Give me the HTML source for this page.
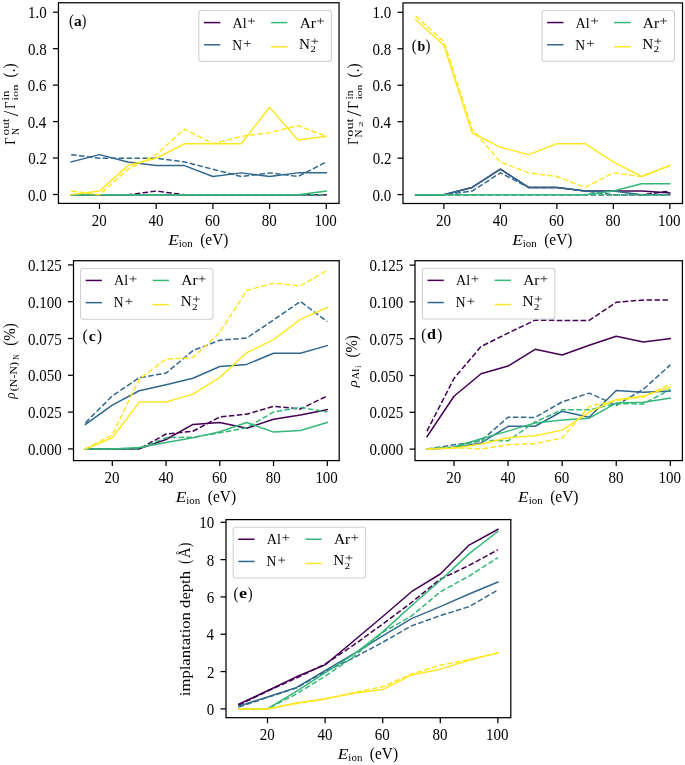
<!DOCTYPE html>
<html><head><meta charset="utf-8"><style>
html,body{margin:0;padding:0;background:#fff;}
svg{display:block;}
text{font-family:"Liberation Serif", serif;fill:#000;font-kerning:none;}
svg{will-change:transform;}
</style></head><body>
<svg width="685" height="765" viewBox="0 0 685 765">
<rect width="685" height="765" fill="#fff"/>
<clipPath id="cla"><rect x="58.45" y="2.75" width="280.60" height="200.65"/></clipPath>
<g clip-path="url(#cla)" fill="none" stroke-linejoin="round">
<polyline points="71.15,194.75 99.50,194.75 127.85,194.75 156.20,194.75 184.55,194.75 212.90,194.75 241.25,194.75 269.60,194.75 297.95,194.75 326.30,194.75" stroke="#440154" stroke-width="1.5" stroke-linecap="square"/>
<polyline points="71.15,194.75 99.50,194.75 127.85,194.75 156.20,191.10 184.55,194.75 212.90,194.75 241.25,194.75 269.60,194.75 297.95,194.75 326.30,194.75" stroke="#440154" stroke-width="1.5" stroke-dasharray="5.55,2.4"/>
<polyline points="71.15,161.94 99.50,154.64 127.85,161.94 156.20,165.58 184.55,165.58 212.90,176.52 241.25,172.87 269.60,176.52 297.95,172.87 326.30,172.87" stroke="#31688e" stroke-width="1.5" stroke-linecap="square"/>
<polyline points="71.15,154.64 99.50,158.29 127.85,158.29 156.20,158.29 184.55,161.94 212.90,169.23 241.25,176.52 269.60,172.87 297.95,176.52 326.30,161.94" stroke="#31688e" stroke-width="1.5" stroke-dasharray="5.55,2.4"/>
<polyline points="71.15,194.75 99.50,194.75 127.85,194.75 156.20,194.75 184.55,194.75 212.90,194.75 241.25,194.75 269.60,194.75 297.95,194.75 326.30,191.10" stroke="#35b779" stroke-width="1.5" stroke-linecap="square"/>
<polyline points="71.15,194.75 99.50,194.75 127.85,194.75 156.20,194.75 184.55,194.75 212.90,194.75 241.25,194.75 269.60,194.75 297.95,194.75 326.30,194.75" stroke="#35b779" stroke-width="1.5" stroke-dasharray="5.55,2.4"/>
<polyline points="71.15,194.75 99.50,191.10 127.85,165.58 156.20,158.29 184.55,143.71 212.90,143.71 241.25,143.71 269.60,107.25 297.95,140.06 326.30,136.41" stroke="#fde725" stroke-width="1.5" stroke-linecap="square"/>
<polyline points="71.15,191.10 99.50,194.75 127.85,169.23 156.20,154.64 184.55,129.12 212.90,143.71 241.25,136.41 269.60,132.77 297.95,125.48 326.30,136.41" stroke="#fde725" stroke-width="1.5" stroke-dasharray="5.55,2.4"/>
</g>
<rect x="58.45" y="2.75" width="280.60" height="200.65" fill="none" stroke="#000" stroke-width="1.25"/>
<line x1="99.50" y1="203.4" x2="99.50" y2="208.9" stroke="#000" stroke-width="1.25"/>
<text transform="translate(91.66,225.50) scale(1.000,1.070)" font-size="15">20</text>
<line x1="156.20" y1="203.4" x2="156.20" y2="208.9" stroke="#000" stroke-width="1.25"/>
<text transform="translate(148.54,225.50) scale(1.000,1.070)" font-size="15">40</text>
<line x1="212.90" y1="203.4" x2="212.90" y2="208.9" stroke="#000" stroke-width="1.25"/>
<text transform="translate(205.06,225.50) scale(1.000,1.070)" font-size="15">60</text>
<line x1="269.60" y1="203.4" x2="269.60" y2="208.9" stroke="#000" stroke-width="1.25"/>
<text transform="translate(261.80,225.50) scale(1.000,1.070)" font-size="15">80</text>
<line x1="326.30" y1="203.4" x2="326.30" y2="208.9" stroke="#000" stroke-width="1.25"/>
<text transform="translate(314.38,225.50) scale(1.000,1.070)" font-size="15">100</text>
<line x1="52.95" y1="194.50" x2="58.45" y2="194.50" stroke="#000" stroke-width="1.25"/>
<text transform="translate(27.97,200.50) scale(1.000,1.070)" font-size="15">0.0</text>
<line x1="52.95" y1="158.04" x2="58.45" y2="158.04" stroke="#000" stroke-width="1.25"/>
<text transform="translate(28.23,164.04) scale(1.000,1.070)" font-size="15">0.2</text>
<line x1="52.95" y1="121.58" x2="58.45" y2="121.58" stroke="#000" stroke-width="1.25"/>
<text transform="translate(27.63,127.58) scale(1.000,1.070)" font-size="15">0.4</text>
<line x1="52.95" y1="85.12" x2="58.45" y2="85.12" stroke="#000" stroke-width="1.25"/>
<text transform="translate(27.85,91.12) scale(1.000,1.070)" font-size="15">0.6</text>
<line x1="52.95" y1="48.66" x2="58.45" y2="48.66" stroke="#000" stroke-width="1.25"/>
<text transform="translate(27.97,54.66) scale(1.000,1.070)" font-size="15">0.8</text>
<line x1="52.95" y1="12.20" x2="58.45" y2="12.20" stroke="#000" stroke-width="1.25"/>
<text transform="translate(27.97,18.20) scale(1.000,1.070)" font-size="15">1.0</text>
<text transform="translate(168.15,244.50) scale(1.154,1.000)" font-size="15" font-style="italic">E</text>
<text transform="translate(178.72,246.80) scale(1.043,1.000)" font-size="10.5">ion</text>
<text transform="translate(200.22,244.90) scale(1.028,1.080)" font-size="15">(eV)</text>
<clipPath id="clb"><rect x="403.0" y="2.9" width="279.50" height="200.60"/></clipPath>
<g clip-path="url(#clb)" fill="none" stroke-linejoin="round">
<polyline points="415.66,194.75 443.90,194.75 472.14,187.46 500.38,169.23 528.62,187.46 556.86,187.46 585.10,191.10 613.34,191.10 641.58,191.10 669.82,192.93" stroke="#440154" stroke-width="1.5" stroke-linecap="square"/>
<polyline points="415.66,194.75 443.90,194.75 472.14,194.75 500.38,194.75 528.62,194.75 556.86,194.75 585.10,194.75 613.34,194.75 641.58,194.75 669.82,191.10" stroke="#440154" stroke-width="1.5" stroke-dasharray="5.55,2.4"/>
<polyline points="415.66,194.75 443.90,194.75 472.14,187.46 500.38,169.23 528.62,187.46 556.86,187.46 585.10,191.10 613.34,191.10 641.58,194.75 669.82,194.75" stroke="#31688e" stroke-width="1.5" stroke-linecap="square"/>
<polyline points="415.66,194.75 443.90,194.75 472.14,191.10 500.38,172.87 528.62,187.46 556.86,187.46 585.10,191.10 613.34,194.75 641.58,194.75 669.82,194.75" stroke="#31688e" stroke-width="1.5" stroke-dasharray="5.55,2.4"/>
<polyline points="415.66,194.75 443.90,194.75 472.14,194.75 500.38,194.75 528.62,194.75 556.86,194.75 585.10,194.75 613.34,191.10 641.58,183.81 669.82,183.81" stroke="#35b779" stroke-width="1.5" stroke-linecap="square"/>
<polyline points="415.66,194.75 443.90,194.75 472.14,194.75 500.38,194.75 528.62,194.75 556.86,194.75 585.10,194.75 613.34,194.75 641.58,194.75 669.82,194.75" stroke="#35b779" stroke-width="1.5" stroke-dasharray="5.55,2.4"/>
<polyline points="415.66,19.74 443.90,45.26 472.14,132.77 500.38,147.35 528.62,154.64 556.86,143.71 585.10,143.71 613.34,161.94 641.58,176.52 669.82,165.58" stroke="#fde725" stroke-width="1.5" stroke-linecap="square"/>
<polyline points="415.66,16.10 443.90,41.62 472.14,129.12 500.38,161.94 528.62,172.87 556.86,176.52 585.10,187.46 613.34,172.87 641.58,176.52 669.82,165.58" stroke="#fde725" stroke-width="1.5" stroke-dasharray="5.55,2.4"/>
</g>
<rect x="403.0" y="2.9" width="279.50" height="200.60" fill="none" stroke="#000" stroke-width="1.25"/>
<line x1="443.90" y1="203.5" x2="443.90" y2="209.0" stroke="#000" stroke-width="1.25"/>
<text transform="translate(436.06,225.60) scale(1.000,1.070)" font-size="15">20</text>
<line x1="500.38" y1="203.5" x2="500.38" y2="209.0" stroke="#000" stroke-width="1.25"/>
<text transform="translate(492.72,225.60) scale(1.000,1.070)" font-size="15">40</text>
<line x1="556.86" y1="203.5" x2="556.86" y2="209.0" stroke="#000" stroke-width="1.25"/>
<text transform="translate(549.02,225.60) scale(1.000,1.070)" font-size="15">60</text>
<line x1="613.34" y1="203.5" x2="613.34" y2="209.0" stroke="#000" stroke-width="1.25"/>
<text transform="translate(605.54,225.60) scale(1.000,1.070)" font-size="15">80</text>
<line x1="669.82" y1="203.5" x2="669.82" y2="209.0" stroke="#000" stroke-width="1.25"/>
<text transform="translate(657.90,225.60) scale(1.000,1.070)" font-size="15">100</text>
<line x1="397.5" y1="194.60" x2="403.0" y2="194.60" stroke="#000" stroke-width="1.25"/>
<text transform="translate(372.52,200.60) scale(1.000,1.070)" font-size="15">0.0</text>
<line x1="397.5" y1="158.14" x2="403.0" y2="158.14" stroke="#000" stroke-width="1.25"/>
<text transform="translate(372.78,164.14) scale(1.000,1.070)" font-size="15">0.2</text>
<line x1="397.5" y1="121.68" x2="403.0" y2="121.68" stroke="#000" stroke-width="1.25"/>
<text transform="translate(372.18,127.68) scale(1.000,1.070)" font-size="15">0.4</text>
<line x1="397.5" y1="85.22" x2="403.0" y2="85.22" stroke="#000" stroke-width="1.25"/>
<text transform="translate(372.40,91.22) scale(1.000,1.070)" font-size="15">0.6</text>
<line x1="397.5" y1="48.76" x2="403.0" y2="48.76" stroke="#000" stroke-width="1.25"/>
<text transform="translate(372.52,54.76) scale(1.000,1.070)" font-size="15">0.8</text>
<line x1="397.5" y1="12.30" x2="403.0" y2="12.30" stroke="#000" stroke-width="1.25"/>
<text transform="translate(372.52,18.30) scale(1.000,1.070)" font-size="15">1.0</text>
<text transform="translate(512.15,244.60) scale(1.154,1.000)" font-size="15" font-style="italic">E</text>
<text transform="translate(522.72,246.90) scale(1.043,1.000)" font-size="10.5">ion</text>
<text transform="translate(544.22,245.00) scale(1.028,1.080)" font-size="15">(eV)</text>
<clipPath id="clc"><rect x="73.5" y="260.7" width="265.70" height="199.90"/></clipPath>
<g clip-path="url(#clc)" fill="none" stroke-linejoin="round">
<polyline points="85.42,448.90 112.30,448.90 139.18,448.90 166.05,439.48 192.93,424.46 219.80,422.55 246.68,428.29 273.55,419.17 300.43,415.04 327.30,409.74" stroke="#440154" stroke-width="1.5" stroke-linecap="square"/>
<polyline points="85.42,448.90 112.30,448.90 139.18,448.90 166.05,434.03 192.93,431.24 219.80,416.96 246.68,414.16 273.55,406.36 300.43,409.01 327.30,395.91" stroke="#440154" stroke-width="1.5" stroke-dasharray="5.55,2.4"/>
<polyline points="85.42,424.46 112.30,405.18 139.18,390.76 166.05,384.72 192.93,378.24 219.80,366.47 246.68,364.41 273.55,353.22 300.43,353.22 327.30,345.57" stroke="#31688e" stroke-width="1.5" stroke-linecap="square"/>
<polyline points="85.42,422.70 112.30,395.91 139.18,377.80 166.05,373.09 192.93,350.57 219.80,340.27 246.68,338.06 273.55,319.95 300.43,301.41 327.30,321.72" stroke="#31688e" stroke-width="1.5" stroke-dasharray="5.55,2.4"/>
<polyline points="85.42,448.90 112.30,448.90 139.18,447.43 166.05,442.57 192.93,437.86 219.80,431.68 246.68,422.55 273.55,432.12 300.43,430.50 327.30,422.55" stroke="#35b779" stroke-width="1.5" stroke-linecap="square"/>
<polyline points="85.42,448.90 112.30,448.90 139.18,448.90 166.05,437.71 192.93,437.12 219.80,432.86 246.68,427.85 273.55,411.95 300.43,407.39 327.30,411.95" stroke="#35b779" stroke-width="1.5" stroke-dasharray="5.55,2.4"/>
<polyline points="85.42,448.90 112.30,437.71 139.18,402.09 166.05,402.09 192.93,394.14 219.80,377.36 246.68,352.78 273.55,339.68 300.43,319.36 327.30,307.59" stroke="#fde725" stroke-width="1.5" stroke-linecap="square"/>
<polyline points="85.42,448.90 112.30,434.92 139.18,379.27 166.05,359.11 192.93,357.64 219.80,332.46 246.68,290.51 273.55,283.15 300.43,285.95 327.30,270.20" stroke="#fde725" stroke-width="1.5" stroke-dasharray="5.55,2.4"/>
</g>
<rect x="73.5" y="260.7" width="265.70" height="199.90" fill="none" stroke="#000" stroke-width="1.25"/>
<line x1="112.30" y1="460.6" x2="112.30" y2="466.1" stroke="#000" stroke-width="1.25"/>
<text transform="translate(104.46,482.70) scale(1.000,1.070)" font-size="15">20</text>
<line x1="166.05" y1="460.6" x2="166.05" y2="466.1" stroke="#000" stroke-width="1.25"/>
<text transform="translate(158.39,482.70) scale(1.000,1.070)" font-size="15">40</text>
<line x1="219.80" y1="460.6" x2="219.80" y2="466.1" stroke="#000" stroke-width="1.25"/>
<text transform="translate(211.96,482.70) scale(1.000,1.070)" font-size="15">60</text>
<line x1="273.55" y1="460.6" x2="273.55" y2="466.1" stroke="#000" stroke-width="1.25"/>
<text transform="translate(265.75,482.70) scale(1.000,1.070)" font-size="15">80</text>
<line x1="327.30" y1="460.6" x2="327.30" y2="466.1" stroke="#000" stroke-width="1.25"/>
<text transform="translate(315.38,482.70) scale(1.000,1.070)" font-size="15">100</text>
<line x1="68.0" y1="448.90" x2="73.5" y2="448.90" stroke="#000" stroke-width="1.25"/>
<text transform="translate(28.02,454.90) scale(1.000,1.070)" font-size="15">0.000</text>
<line x1="68.0" y1="412.10" x2="73.5" y2="412.10" stroke="#000" stroke-width="1.25"/>
<text transform="translate(28.04,418.10) scale(1.000,1.070)" font-size="15">0.025</text>
<line x1="68.0" y1="375.30" x2="73.5" y2="375.30" stroke="#000" stroke-width="1.25"/>
<text transform="translate(28.02,381.30) scale(1.000,1.070)" font-size="15">0.050</text>
<line x1="68.0" y1="338.50" x2="73.5" y2="338.50" stroke="#000" stroke-width="1.25"/>
<text transform="translate(28.04,344.50) scale(1.000,1.070)" font-size="15">0.075</text>
<line x1="68.0" y1="301.70" x2="73.5" y2="301.70" stroke="#000" stroke-width="1.25"/>
<text transform="translate(28.02,307.70) scale(1.000,1.070)" font-size="15">0.100</text>
<line x1="68.0" y1="264.90" x2="73.5" y2="264.90" stroke="#000" stroke-width="1.25"/>
<text transform="translate(28.04,270.90) scale(1.000,1.070)" font-size="15">0.125</text>
<text transform="translate(175.75,501.70) scale(1.154,1.000)" font-size="15" font-style="italic">E</text>
<text transform="translate(186.32,504.00) scale(1.043,1.000)" font-size="10.5">ion</text>
<text transform="translate(207.82,502.10) scale(1.028,1.080)" font-size="15">(eV)</text>
<clipPath id="cld"><rect x="415.0" y="260.7" width="267.40" height="199.90"/></clipPath>
<g clip-path="url(#cld)" fill="none" stroke-linejoin="round">
<polyline points="426.96,436.59 454.00,396.26 481.04,373.73 508.08,366.08 535.12,349.30 562.16,355.04 589.20,345.32 616.24,336.20 643.28,341.94 670.32,338.55" stroke="#440154" stroke-width="1.5" stroke-linecap="square"/>
<polyline points="426.96,431.14 454.00,378.44 481.04,346.50 508.08,333.11 535.12,320.15 562.16,320.45 589.20,320.45 616.24,302.34 643.28,299.99 670.32,299.99" stroke="#440154" stroke-width="1.5" stroke-dasharray="5.55,2.4"/>
<polyline points="426.96,449.10 454.00,447.63 481.04,442.92 508.08,426.28 535.12,426.28 562.16,411.27 589.20,417.16 616.24,390.51 643.28,392.28 670.32,390.96" stroke="#31688e" stroke-width="1.5" stroke-linecap="square"/>
<polyline points="426.96,449.10 454.00,444.83 481.04,440.86 508.08,417.16 535.12,417.45 562.16,401.85 589.20,393.16 616.24,405.23 643.28,389.34 670.32,364.90" stroke="#31688e" stroke-width="1.5" stroke-dasharray="5.55,2.4"/>
<polyline points="426.96,449.10 454.00,447.04 481.04,438.80 508.08,431.14 535.12,422.90 562.16,419.95 589.20,418.19 616.24,403.03 643.28,402.29 670.32,398.02" stroke="#35b779" stroke-width="1.5" stroke-linecap="square"/>
<polyline points="426.96,449.10 454.00,447.63 481.04,440.27 508.08,440.86 535.12,421.87 562.16,409.80 589.20,409.80 616.24,403.62 643.28,404.06 670.32,389.34" stroke="#35b779" stroke-width="1.5" stroke-dasharray="5.55,2.4"/>
<polyline points="426.96,449.10 454.00,448.36 481.04,443.95 508.08,437.77 535.12,435.85 562.16,430.11 589.20,412.01 616.24,399.64 643.28,396.11 670.32,387.28" stroke="#fde725" stroke-width="1.5" stroke-linecap="square"/>
<polyline points="426.96,449.10 454.00,447.63 481.04,449.10 508.08,444.68 535.12,443.65 562.16,438.06 589.20,406.41 616.24,400.52 643.28,396.99 670.32,384.18" stroke="#fde725" stroke-width="1.5" stroke-dasharray="5.55,2.4"/>
</g>
<rect x="415.0" y="260.7" width="267.40" height="199.90" fill="none" stroke="#000" stroke-width="1.25"/>
<line x1="454.00" y1="460.6" x2="454.00" y2="466.1" stroke="#000" stroke-width="1.25"/>
<text transform="translate(446.16,482.70) scale(1.000,1.070)" font-size="15">20</text>
<line x1="508.08" y1="460.6" x2="508.08" y2="466.1" stroke="#000" stroke-width="1.25"/>
<text transform="translate(500.42,482.70) scale(1.000,1.070)" font-size="15">40</text>
<line x1="562.16" y1="460.6" x2="562.16" y2="466.1" stroke="#000" stroke-width="1.25"/>
<text transform="translate(554.32,482.70) scale(1.000,1.070)" font-size="15">60</text>
<line x1="616.24" y1="460.6" x2="616.24" y2="466.1" stroke="#000" stroke-width="1.25"/>
<text transform="translate(608.44,482.70) scale(1.000,1.070)" font-size="15">80</text>
<line x1="670.32" y1="460.6" x2="670.32" y2="466.1" stroke="#000" stroke-width="1.25"/>
<text transform="translate(658.40,482.70) scale(1.000,1.070)" font-size="15">100</text>
<line x1="409.5" y1="449.10" x2="415.0" y2="449.10" stroke="#000" stroke-width="1.25"/>
<text transform="translate(369.52,455.10) scale(1.000,1.070)" font-size="15">0.000</text>
<line x1="409.5" y1="412.30" x2="415.0" y2="412.30" stroke="#000" stroke-width="1.25"/>
<text transform="translate(369.54,418.30) scale(1.000,1.070)" font-size="15">0.025</text>
<line x1="409.5" y1="375.50" x2="415.0" y2="375.50" stroke="#000" stroke-width="1.25"/>
<text transform="translate(369.52,381.50) scale(1.000,1.070)" font-size="15">0.050</text>
<line x1="409.5" y1="338.70" x2="415.0" y2="338.70" stroke="#000" stroke-width="1.25"/>
<text transform="translate(369.54,344.70) scale(1.000,1.070)" font-size="15">0.075</text>
<line x1="409.5" y1="301.90" x2="415.0" y2="301.90" stroke="#000" stroke-width="1.25"/>
<text transform="translate(369.52,307.90) scale(1.000,1.070)" font-size="15">0.100</text>
<line x1="409.5" y1="265.10" x2="415.0" y2="265.10" stroke="#000" stroke-width="1.25"/>
<text transform="translate(369.54,271.10) scale(1.000,1.070)" font-size="15">0.125</text>
<text transform="translate(518.10,501.70) scale(1.154,1.000)" font-size="15" font-style="italic">E</text>
<text transform="translate(528.67,504.00) scale(1.043,1.000)" font-size="10.5">ion</text>
<text transform="translate(550.17,502.10) scale(1.028,1.080)" font-size="15">(eV)</text>
<clipPath id="cle"><rect x="226.0" y="519.6" width="284.80" height="198.10"/></clipPath>
<g clip-path="url(#cle)" fill="none" stroke-linejoin="round">
<polyline points="238.70,704.24 267.50,690.80 296.30,676.80 325.10,664.86 353.90,640.79 382.70,616.53 411.50,591.72 440.30,573.99 469.10,545.07 497.90,529.39" stroke="#440154" stroke-width="1.5" stroke-linecap="square"/>
<polyline points="238.70,705.17 267.50,691.17 296.30,678.11 325.10,664.12 353.90,644.90 382.70,624.00 411.50,602.54 440.30,579.21 469.10,565.40 497.90,549.73" stroke="#440154" stroke-width="1.5" stroke-dasharray="5.55,2.4"/>
<polyline points="238.70,706.10 267.50,696.96 296.30,687.63 325.10,670.65 353.90,653.67 382.70,635.94 411.50,618.59 440.30,606.64 469.10,593.95 497.90,582.01" stroke="#31688e" stroke-width="1.5" stroke-linecap="square"/>
<polyline points="238.70,707.03 267.50,697.33 296.30,688.00 325.10,671.58 353.90,657.77 382.70,642.28 411.50,625.86 440.30,615.60 469.10,606.64 497.90,590.04" stroke="#31688e" stroke-width="1.5" stroke-dasharray="5.55,2.4"/>
<polyline points="238.70,708.90 267.50,708.90 296.30,691.36 325.10,672.89 353.90,654.23 382.70,631.83 411.50,605.71 440.30,580.52 469.10,553.65 497.90,531.44" stroke="#35b779" stroke-width="1.5" stroke-linecap="square"/>
<polyline points="238.70,708.90 267.50,708.90 296.30,693.97 325.10,676.25 353.90,656.65 382.70,632.39 411.50,615.97 440.30,591.90 469.10,576.04 497.90,557.75" stroke="#35b779" stroke-width="1.5" stroke-dasharray="5.55,2.4"/>
<polyline points="238.70,708.90 267.50,708.90 296.30,702.93 325.10,698.82 353.90,693.23 382.70,689.49 411.50,674.94 440.30,669.15 469.10,660.20 497.90,652.55" stroke="#fde725" stroke-width="1.5" stroke-linecap="square"/>
<polyline points="238.70,708.90 267.50,708.90 296.30,703.68 325.10,699.20 353.90,692.48 382.70,686.69 411.50,674.01 440.30,665.24 469.10,659.64 497.90,653.11" stroke="#fde725" stroke-width="1.5" stroke-dasharray="5.55,2.4"/>
</g>
<rect x="226.0" y="519.6" width="284.80" height="198.10" fill="none" stroke="#000" stroke-width="1.25"/>
<line x1="267.50" y1="717.7" x2="267.50" y2="723.2" stroke="#000" stroke-width="1.25"/>
<text transform="translate(259.66,739.80) scale(1.000,1.070)" font-size="15">20</text>
<line x1="325.10" y1="717.7" x2="325.10" y2="723.2" stroke="#000" stroke-width="1.25"/>
<text transform="translate(317.44,739.80) scale(1.000,1.070)" font-size="15">40</text>
<line x1="382.70" y1="717.7" x2="382.70" y2="723.2" stroke="#000" stroke-width="1.25"/>
<text transform="translate(374.86,739.80) scale(1.000,1.070)" font-size="15">60</text>
<line x1="440.30" y1="717.7" x2="440.30" y2="723.2" stroke="#000" stroke-width="1.25"/>
<text transform="translate(432.50,739.80) scale(1.000,1.070)" font-size="15">80</text>
<line x1="497.90" y1="717.7" x2="497.90" y2="723.2" stroke="#000" stroke-width="1.25"/>
<text transform="translate(485.98,739.80) scale(1.000,1.070)" font-size="15">100</text>
<line x1="220.5" y1="708.90" x2="226.0" y2="708.90" stroke="#000" stroke-width="1.25"/>
<text transform="translate(206.77,714.90) scale(1.000,1.070)" font-size="15">0</text>
<line x1="220.5" y1="671.58" x2="226.0" y2="671.58" stroke="#000" stroke-width="1.25"/>
<text transform="translate(207.03,677.58) scale(1.000,1.070)" font-size="15">2</text>
<line x1="220.5" y1="634.26" x2="226.0" y2="634.26" stroke="#000" stroke-width="1.25"/>
<text transform="translate(206.43,640.26) scale(1.000,1.070)" font-size="15">4</text>
<line x1="220.5" y1="596.94" x2="226.0" y2="596.94" stroke="#000" stroke-width="1.25"/>
<text transform="translate(206.65,602.94) scale(1.000,1.070)" font-size="15">6</text>
<line x1="220.5" y1="559.62" x2="226.0" y2="559.62" stroke="#000" stroke-width="1.25"/>
<text transform="translate(206.77,565.62) scale(1.000,1.070)" font-size="15">8</text>
<line x1="220.5" y1="522.30" x2="226.0" y2="522.30" stroke="#000" stroke-width="1.25"/>
<text transform="translate(199.27,528.30) scale(1.000,1.070)" font-size="15">10</text>
<text transform="translate(337.80,758.80) scale(1.154,1.000)" font-size="15" font-style="italic">E</text>
<text transform="translate(348.37,761.10) scale(1.043,1.000)" font-size="10.5">ion</text>
<text transform="translate(369.87,759.20) scale(1.028,1.080)" font-size="15">(eV)</text>
<rect x="198.9" y="10.55" width="132.5" height="50.8" rx="2.6" ry="2.6" fill="#fff" fill-opacity="0.8" stroke="#d0d0d0" stroke-width="1.05"/>
<line x1="204.75" y1="22.60" x2="219.55" y2="22.60" stroke="#440154" stroke-width="1.5" stroke-linecap="square"/>
<line x1="204.75" y1="44.80" x2="219.55" y2="44.80" stroke="#31688e" stroke-width="1.5" stroke-linecap="square"/>
<line x1="271.85" y1="22.60" x2="286.65" y2="22.60" stroke="#35b779" stroke-width="1.5" stroke-linecap="square"/>
<line x1="271.85" y1="46.80" x2="286.65" y2="46.80" stroke="#fde725" stroke-width="1.5" stroke-linecap="square"/>
<text transform="translate(232.46,27.60) scale(0.941,0.970)" font-size="15">Al</text>
<text transform="translate(232.21,49.60) scale(0.905,0.977)" font-size="15">N</text>
<text transform="translate(299.65,27.60) scale(1.029,1.020)" font-size="15">Ar</text>
<text transform="translate(299.06,48.60) scale(1.014,0.977)" font-size="15">N</text>
<text transform="translate(310.31,52.20) scale(1.069,0.734)" font-size="10.5">2</text>
<path d="M248.00,21.00H254.90M251.45,18.00V24.00" stroke="#222" stroke-width="0.8" fill="none"/>
<path d="M243.90,43.50H250.80M247.35,40.50V46.50" stroke="#222" stroke-width="0.8" fill="none"/>
<path d="M317.00,21.00H323.90M320.45,18.00V24.00" stroke="#222" stroke-width="0.8" fill="none"/>
<path d="M311.40,41.25H318.20M314.80,38.50V44.00" stroke="#222" stroke-width="0.8" fill="none"/>
<rect x="542.0" y="10.5" width="132.5" height="50.8" rx="2.6" ry="2.6" fill="#fff" fill-opacity="0.8" stroke="#d0d0d0" stroke-width="1.05"/>
<line x1="547.85" y1="22.55" x2="562.65" y2="22.55" stroke="#440154" stroke-width="1.5" stroke-linecap="square"/>
<line x1="547.85" y1="44.75" x2="562.65" y2="44.75" stroke="#31688e" stroke-width="1.5" stroke-linecap="square"/>
<line x1="614.95" y1="22.55" x2="629.75" y2="22.55" stroke="#35b779" stroke-width="1.5" stroke-linecap="square"/>
<line x1="614.95" y1="46.75" x2="629.75" y2="46.75" stroke="#fde725" stroke-width="1.5" stroke-linecap="square"/>
<text transform="translate(575.56,27.55) scale(0.941,0.970)" font-size="15">Al</text>
<text transform="translate(575.31,49.55) scale(0.905,0.977)" font-size="15">N</text>
<text transform="translate(642.75,27.55) scale(1.029,1.020)" font-size="15">Ar</text>
<text transform="translate(642.16,48.55) scale(1.014,0.977)" font-size="15">N</text>
<text transform="translate(653.41,52.15) scale(1.069,0.734)" font-size="10.5">2</text>
<path d="M591.10,20.95H598.00M594.55,17.95V23.95" stroke="#222" stroke-width="0.8" fill="none"/>
<path d="M587.00,43.45H593.90M590.45,40.45V46.45" stroke="#222" stroke-width="0.8" fill="none"/>
<path d="M660.10,20.95H667.00M663.55,17.95V23.95" stroke="#222" stroke-width="0.8" fill="none"/>
<path d="M654.50,41.20H661.30M657.90,38.45V43.95" stroke="#222" stroke-width="0.8" fill="none"/>
<rect x="80.5" y="268.4" width="132.5" height="50.8" rx="2.6" ry="2.6" fill="#fff" fill-opacity="0.8" stroke="#d0d0d0" stroke-width="1.05"/>
<line x1="86.35" y1="280.45" x2="101.15" y2="280.45" stroke="#440154" stroke-width="1.5" stroke-linecap="square"/>
<line x1="86.35" y1="302.65" x2="101.15" y2="302.65" stroke="#31688e" stroke-width="1.5" stroke-linecap="square"/>
<line x1="153.45" y1="280.45" x2="168.25" y2="280.45" stroke="#35b779" stroke-width="1.5" stroke-linecap="square"/>
<line x1="153.45" y1="304.65" x2="168.25" y2="304.65" stroke="#fde725" stroke-width="1.5" stroke-linecap="square"/>
<text transform="translate(114.06,285.45) scale(0.941,0.970)" font-size="15">Al</text>
<text transform="translate(113.81,307.45) scale(0.905,0.977)" font-size="15">N</text>
<text transform="translate(181.25,285.45) scale(1.029,1.020)" font-size="15">Ar</text>
<text transform="translate(180.66,306.45) scale(1.014,0.977)" font-size="15">N</text>
<text transform="translate(191.91,310.05) scale(1.069,0.734)" font-size="10.5">2</text>
<path d="M129.60,278.85H136.50M133.05,275.85V281.85" stroke="#222" stroke-width="0.8" fill="none"/>
<path d="M125.50,301.35H132.40M128.95,298.35V304.35" stroke="#222" stroke-width="0.8" fill="none"/>
<path d="M198.60,278.85H205.50M202.05,275.85V281.85" stroke="#222" stroke-width="0.8" fill="none"/>
<path d="M193.00,299.10H199.80M196.40,296.35V301.85" stroke="#222" stroke-width="0.8" fill="none"/>
<rect x="422.4" y="268.3" width="132.5" height="50.8" rx="2.6" ry="2.6" fill="#fff" fill-opacity="0.8" stroke="#d0d0d0" stroke-width="1.05"/>
<line x1="428.25" y1="280.35" x2="443.05" y2="280.35" stroke="#440154" stroke-width="1.5" stroke-linecap="square"/>
<line x1="428.25" y1="302.55" x2="443.05" y2="302.55" stroke="#31688e" stroke-width="1.5" stroke-linecap="square"/>
<line x1="495.35" y1="280.35" x2="510.15" y2="280.35" stroke="#35b779" stroke-width="1.5" stroke-linecap="square"/>
<line x1="495.35" y1="304.55" x2="510.15" y2="304.55" stroke="#fde725" stroke-width="1.5" stroke-linecap="square"/>
<text transform="translate(455.96,285.35) scale(0.941,0.970)" font-size="15">Al</text>
<text transform="translate(455.71,307.35) scale(0.905,0.977)" font-size="15">N</text>
<text transform="translate(523.15,285.35) scale(1.029,1.020)" font-size="15">Ar</text>
<text transform="translate(522.56,306.35) scale(1.014,0.977)" font-size="15">N</text>
<text transform="translate(533.81,309.95) scale(1.069,0.734)" font-size="10.5">2</text>
<path d="M471.50,278.75H478.40M474.95,275.75V281.75" stroke="#222" stroke-width="0.8" fill="none"/>
<path d="M467.40,301.25H474.30M470.85,298.25V304.25" stroke="#222" stroke-width="0.8" fill="none"/>
<path d="M540.50,278.75H547.40M543.95,275.75V281.75" stroke="#222" stroke-width="0.8" fill="none"/>
<path d="M534.90,299.00H541.70M538.30,296.25V301.75" stroke="#222" stroke-width="0.8" fill="none"/>
<rect x="233.2" y="527.2" width="132.5" height="50.8" rx="2.6" ry="2.6" fill="#fff" fill-opacity="0.8" stroke="#d0d0d0" stroke-width="1.05"/>
<line x1="239.05" y1="539.25" x2="253.85" y2="539.25" stroke="#440154" stroke-width="1.5" stroke-linecap="square"/>
<line x1="239.05" y1="561.45" x2="253.85" y2="561.45" stroke="#31688e" stroke-width="1.5" stroke-linecap="square"/>
<line x1="306.15" y1="539.25" x2="320.95" y2="539.25" stroke="#35b779" stroke-width="1.5" stroke-linecap="square"/>
<line x1="306.15" y1="563.45" x2="320.95" y2="563.45" stroke="#fde725" stroke-width="1.5" stroke-linecap="square"/>
<text transform="translate(266.76,544.25) scale(0.941,0.970)" font-size="15">Al</text>
<text transform="translate(266.51,566.25) scale(0.905,0.977)" font-size="15">N</text>
<text transform="translate(333.95,544.25) scale(1.029,1.020)" font-size="15">Ar</text>
<text transform="translate(333.36,565.25) scale(1.014,0.977)" font-size="15">N</text>
<text transform="translate(344.61,568.85) scale(1.069,0.734)" font-size="10.5">2</text>
<path d="M282.30,537.65H289.20M285.75,534.65V540.65" stroke="#222" stroke-width="0.8" fill="none"/>
<path d="M278.20,560.15H285.10M281.65,557.15V563.15" stroke="#222" stroke-width="0.8" fill="none"/>
<path d="M351.30,537.65H358.20M354.75,534.65V540.65" stroke="#222" stroke-width="0.8" fill="none"/>
<path d="M345.70,557.90H352.50M349.10,555.15V560.65" stroke="#222" stroke-width="0.8" fill="none"/>
<text transform="translate(68.95,26.24) scale(0.986,1.051)" font-size="15">(</text>
<text transform="translate(74.10,26.16) scale(1.031,0.967)" font-size="15" font-weight="bold">a</text>
<text transform="translate(81.76,26.24) scale(0.908,1.051)" font-size="15">)</text>
<text transform="translate(411.65,51.24) scale(0.986,1.051)" font-size="15">(</text>
<text transform="translate(417.42,51.25) scale(0.928,0.995)" font-size="15" font-weight="bold">b</text>
<text transform="translate(425.52,51.24) scale(0.986,1.051)" font-size="15">)</text>
<text transform="translate(82.50,341.17) scale(1.064,1.073)" font-size="15">(</text>
<text transform="translate(88.76,341.17) scale(1.057,0.930)" font-size="15" font-weight="bold">c</text>
<text transform="translate(96.69,341.17) scale(1.064,1.073)" font-size="15">)</text>
<text transform="translate(421.35,339.50) scale(0.986,1.096)" font-size="15">(</text>
<text transform="translate(426.95,339.06) scale(1.071,0.938)" font-size="15" font-weight="bold">d</text>
<text transform="translate(436.99,339.50) scale(1.064,1.096)" font-size="15">)</text>
<text transform="translate(233.45,598.70) scale(0.986,1.096)" font-size="15">(</text>
<text transform="translate(239.08,598.46) scale(1.216,0.973)" font-size="15" font-weight="bold">e</text>
<text transform="translate(247.96,598.70) scale(0.908,1.096)" font-size="15">)</text>
<g transform="rotate(-90)">
<text transform="translate(-144.67,14.80) scale(0.851,1.039)" font-size="15">Γ</text>
<text transform="translate(-135.40,8.90) scale(1.258,0.964)" font-size="10.5">out</text>
<text transform="translate(-134.88,18.70) scale(0.938,0.945)" font-size="10.5">N</text>
<text transform="translate(-116.30,18.19) scale(1.344,1.445)" font-size="15">/</text>
<text transform="translate(-108.66,14.80) scale(0.838,1.039)" font-size="15">Γ</text>
<text transform="translate(-100.57,9.10) scale(1.207,1.007)" font-size="10.5">in</text>
<text transform="translate(-100.56,18.42) scale(1.197,0.822)" font-size="10.5">ion</text>
<text transform="translate(-77.47,14.91) scale(1.022,1.125)" font-size="15">(.)</text>
</g>
<g transform="rotate(-90)">
<text transform="translate(-144.66,358.30) scale(0.825,1.008)" font-size="15">Γ</text>
<text transform="translate(-136.64,352.50) scale(1.351,0.964)" font-size="10.5">out</text>
<text transform="translate(-137.41,362.20) scale(1.037,0.960)" font-size="10.5">N</text>
<text transform="translate(-127.08,363.30) scale(1.463,0.946)" font-size="7.5">2</text>
<text transform="translate(-116.30,361.29) scale(1.392,1.425)" font-size="15">/</text>
<text transform="translate(-108.67,358.30) scale(0.864,1.008)" font-size="15">Γ</text>
<text transform="translate(-99.55,352.90) scale(1.117,0.978)" font-size="10.5">in</text>
<text transform="translate(-99.55,362.22) scale(1.120,0.765)" font-size="10.5">ion</text>
<text transform="translate(-77.47,358.78) scale(1.022,1.103)" font-size="15">(.)</text>
</g>
<g transform="rotate(-90)">
<text transform="translate(-398.77,14.57) scale(0.856,0.948)" font-size="15" font-style="italic">ρ</text>
<text transform="translate(-391.13,17.28) scale(1.140,1.082)" font-size="10.5">(N-N)</text>
<text transform="translate(-359.71,18.50) scale(0.994,1.079)" font-size="7.5">N</text>
<text transform="translate(-345.76,14.91) scale(1.002,1.125)" font-size="15">(%)</text>
</g>
<g transform="rotate(-90)">
<text transform="translate(-387.33,356.73) scale(0.982,0.899)" font-size="15" font-style="italic">ρ</text>
<text transform="translate(-379.40,358.60) scale(1.001,0.961)" font-size="10.5">Al</text>
<text transform="translate(-367.65,360.60) scale(0.953,1.067)" font-size="7.5">i</text>
<text transform="translate(-357.55,357.21) scale(0.987,1.125)" font-size="15">(%)</text>
</g>
<g transform="rotate(-90)">
<text transform="translate(-696.15,190.40) scale(1.110,1.000)" font-size="15">implantation depth</text>
<text transform="translate(-563.75,190.35) scale(0.831,1.110)" font-size="15">(</text>
<text transform="translate(-558.04,190.40) scale(0.964,1.155)" font-size="15">Å</text>
<text transform="translate(-547.11,190.35) scale(0.857,1.110)" font-size="15">)</text>
</g>
</svg></body></html>
